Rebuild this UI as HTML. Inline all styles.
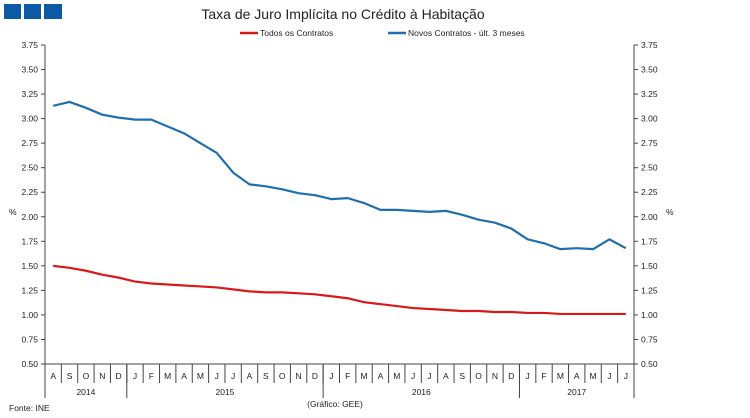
<!DOCTYPE html>
<html><head><meta charset="utf-8"><style>
body{margin:0;background:#fff;}
svg{font-family:"Liberation Sans",sans-serif;display:block}
</style></head><body>
<svg id="c" width="750" height="418" viewBox="0 0 750 418">
<rect x="4" y="4" width="17" height="15" fill="#0b5aa3"/>
<rect x="24" y="4" width="17" height="15" fill="#0b5aa3"/>
<rect x="44" y="4" width="18" height="15" fill="#0b5aa3"/>
<text x="343" y="19" font-size="14" text-anchor="middle" fill="#222">Taxa de Juro Implícita no Crédito à Habitação</text>
<g>
<line x1="240" y1="33" x2="258" y2="33" stroke="#d7191c" stroke-width="2.5"/>
<text x="260" y="36" font-size="8.5" fill="#222">Todos os Contratos</text>
<line x1="388" y1="33" x2="406" y2="33" stroke="#1f6fad" stroke-width="2.5"/>
<text x="408" y="36" font-size="8.5" fill="#222">Novos Contratos - últ. 3 meses</text>
</g>
<g id="axes"></g>
<g id="marks"></g>
<text x="9" y="411" font-size="8.5" fill="#222">Fonte: INE</text>
<text x="335" y="407" font-size="8.5" fill="#222" text-anchor="middle">(Gráfico: GEE)</text>
</svg>
<script>
const months=["A","S","O","N","D","J","F","M","A","M","J","J","A","S","O","N","D","J","F","M","A","M","J","J","A","S","O","N","D","J","F","M","A","M","J","J"];
const years=[{label:"2014",n:5},{label:"2015",n:12},{label:"2016",n:12},{label:"2017",n:7}];
const yTicks=[0.5,0.75,1.0,1.25,1.5,1.75,2.0,2.25,2.5,2.75,3.0,3.25,3.5,3.75];
const novos=[3.13,3.17,3.11,3.04,3.01,2.99,2.99,2.92,2.85,2.75,2.65,2.45,2.33,2.31,2.28,2.24,2.22,2.18,2.19,2.14,2.07,2.07,2.06,2.05,2.06,2.02,1.97,1.94,1.88,1.77,1.73,1.67,1.68,1.67,1.77,1.68];
const todos=[1.50,1.48,1.45,1.41,1.38,1.34,1.32,1.31,1.30,1.29,1.28,1.26,1.24,1.23,1.23,1.22,1.21,1.19,1.17,1.13,1.11,1.09,1.07,1.06,1.05,1.04,1.04,1.03,1.03,1.02,1.02,1.01,1.01,1.01,1.01,1.01];
const NS="http://www.w3.org/2000/svg";
const L=45,R=634,T=45,B=364,yMin=0.5,yMax=3.75;
const cw=(R-L)/months.length;
const xs=i=>L+cw*(i+0.5);
const ys=v=>B-(v-yMin)/(yMax-yMin)*(B-T);
function mk(t,a,p){const e=document.createElementNS(NS,t);for(const k in a)e.setAttribute(k,a[k]);p.appendChild(e);return e;}
const ax=document.getElementById('axes'),mg=document.getElementById('marks');
const la=mk('line',{x1:L,y1:T,x2:L,y2:B,stroke:'#444'},ax);


const ra=mk('line',{x1:R,y1:T,x2:R,y2:B,stroke:'#444'},ax);


const xa=mk('line',{x1:L,y1:B,x2:R,y2:B,stroke:'#444'},ax);


yTicks.forEach(v=>{const y=ys(v);
mk('line',{x1:L-4,y1:y,x2:L,y2:y,stroke:'#444'},ax);
mk('line',{x1:R,y1:y,x2:R+4,y2:y,stroke:'#444'},ax);
const t1=mk('text',{x:L-7,y:y+3,'font-size':8.5,'text-anchor':'end',fill:'#222'},ax);t1.textContent=v.toFixed(2);


const t2=mk('text',{x:R+7,y:y+3,'font-size':8.5,fill:'#222'},ax);t2.textContent=v.toFixed(2);

});
const u1=mk('text',{x:9,y:215,'font-size':8.5,fill:'#222'},ax);u1.textContent='%';


const u2=mk('text',{x:666,y:215,'font-size':8.5,fill:'#222'},ax);u2.textContent='%';


months.forEach((m,i)=>{mk('line',{x1:L+cw*(i+1),y1:B,x2:L+cw*(i+1),y2:B+19,stroke:'#444'},ax);
const t=mk('text',{x:xs(i),y:B+15,'font-size':8.5,'text-anchor':'middle',fill:'#222'},ax);t.textContent=m;

});
let acc=0;years.forEach(yr=>{const x0=L+cw*acc;acc+=yr.n;const x1=L+cw*acc;
mk('line',{x1:x1,y1:B,x2:x1,y2:B+34,stroke:'#444'},ax);
const t=mk('text',{x:(x0+x1)/2,y:B+31,'font-size':8.5,'text-anchor':'middle',fill:'#222'},ax);t.textContent=yr.label;

});
mk('line',{x1:L,y1:B,x2:L,y2:B+34,stroke:'#444'},ax);
function line(d,c,name){const p=mk('polyline',{points:d.map((v,i)=>xs(i)+','+ys(v)).join(' '),fill:'none',stroke:c,'stroke-width':2.2,'stroke-linejoin':'round'},mg);

}
line(todos,'#d7191c','series-todos-contratos');
line(novos,'#1f6fad','series-novos-contratos');
</script>
</body></html>
